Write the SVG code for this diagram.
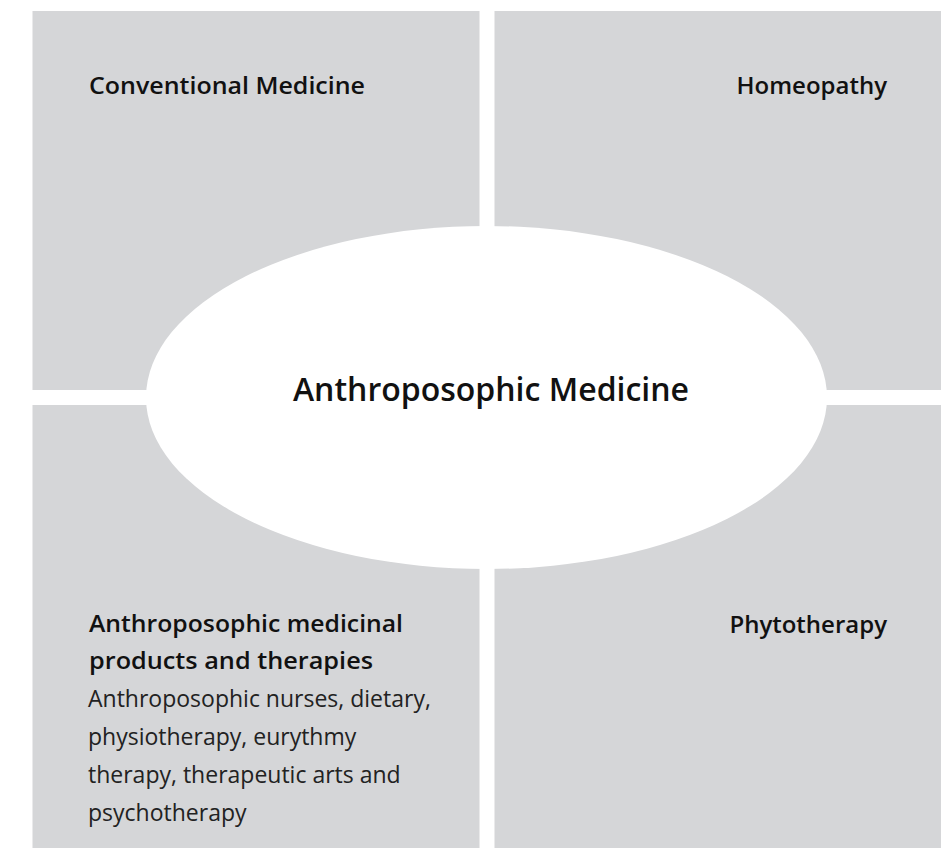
<svg xmlns="http://www.w3.org/2000/svg" width="945" height="848" viewBox="0 0 945 848">
<style>
.box{fill:#d5d6d8}
.t{font-family:"Open Sans","DejaVu Sans",sans-serif;fill:#111}
.b{font-weight:600;font-size:24px}
.n{font-weight:400;font-size:23px;fill:#222}
.c{font-weight:600;font-size:32px;text-anchor:middle}
</style>
<rect width="945" height="848" fill="#fff"/>
<g id="conventional">
<rect class="box" x="32.5" y="11" width="447" height="379"/>
<text class="t b" x="89" y="94" textLength="276" lengthAdjust="spacingAndGlyphs">Conventional Medicine</text>
</g>
<g id="homeopathy">
<rect class="box" x="494.5" y="11" width="446.5" height="379"/>
<text class="t b" x="887" y="94" text-anchor="end">Homeopathy</text>
</g>
<g id="anthroposophic-products">
<rect class="box" x="32.5" y="405" width="447" height="443"/>
<text class="t b" x="89" y="632" textLength="314" lengthAdjust="spacingAndGlyphs">Anthroposophic medicinal</text>
<text class="t b" x="89" y="669" textLength="284" lengthAdjust="spacingAndGlyphs">products and therapies</text>
<text class="t n" x="88" y="707">Anthroposophic nurses, dietary,</text>
<text class="t n" x="88" y="745">physiotherapy, eurythmy</text>
<text class="t n" x="88" y="783">therapy, therapeutic arts and</text>
<text class="t n" x="88" y="821">psychotherapy</text>
</g>
<g id="phytotherapy">
<rect class="box" x="494.5" y="405" width="446.5" height="443"/>
<text class="t b" x="887" y="633" text-anchor="end">Phytotherapy</text>
</g>
<g id="anthroposophic-medicine">
<ellipse cx="486.5" cy="397.5" rx="340.5" ry="171.5" fill="#fff"/>
<text class="t c" x="491" y="401">Anthroposophic Medicine</text>
</g>
<g id="connectors"/>
</svg>
